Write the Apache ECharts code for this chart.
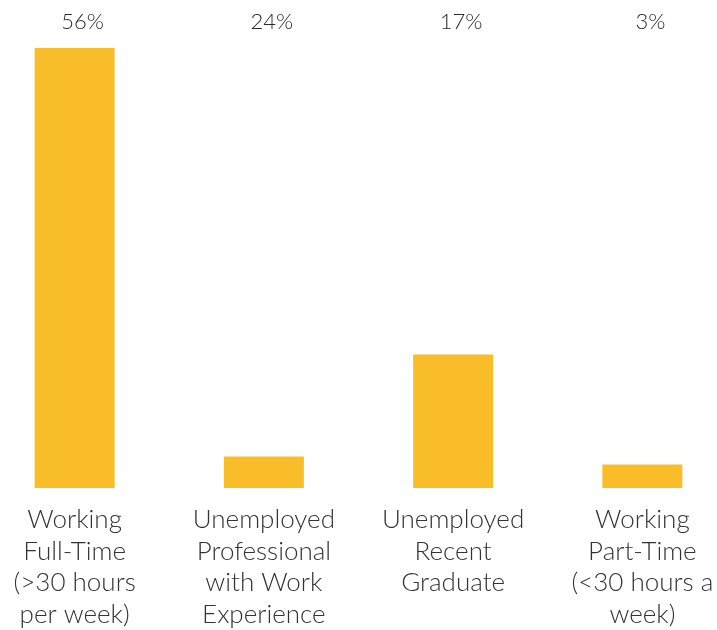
<!DOCTYPE html>
<html>
<head>
<meta charset="utf-8">
<script src="https://cdn.jsdelivr.net/npm/echarts@6/dist/echarts.min.js"></script>
<style>
  html, body { margin: 0; padding: 0; background: #fff; overflow: hidden; }
  /* plot is a bit wider than the window, first/last bands run off the edges */
  #chart { width: 757px; height: 630px; margin-left: -20px; }
</style>
</head>
<body>
<div id="chart"></div>
<script>
const categories = [
  "Working\nFull-Time\n(>30 hours\nper week)",
  "Unemployed\nProfessional\nwith Work\nExperience",
  "Unemployed\nRecent\nGraduate",
  "Working\nPart-Time\n(<30 hours a\nweek)"
];
// bar heights as drawn in the picture
const barValues = [56, 4, 17, 3];
// percentage labels printed above the plot
const topLabels = ["56%", "24%", "17%", "3%"];

const chart = echarts.init(document.getElementById("chart"));

const option = {
  animation: false,
  grid: { left: 0, right: 0, top: 48, bottom: 142 },
  xAxis: [
    {
      type: "category",
      data: categories,
      position: "bottom",
      axisLine: { show: false },
      axisTick: { show: false },
      axisLabel: {
        interval: 0,
        margin: 16,
        color: "#333",
        fontFamily: "Lato",
        fontWeight: 300,
        fontSize: 26,
        lineHeight: 31.5
      }
    },
    {
      type: "category",
      data: topLabels,
      position: "top",
      axisLine: { show: false },
      axisTick: { show: false },
      axisLabel: {
        interval: 0,
        margin: 15,
        color: "#2a2a2a",
        fontFamily: "Lato",
        fontWeight: 300,
        fontSize: 22,
        padding: [0, 0, 0, 16]
      }
    }
  ],
  yAxis: {
    type: "value",
    min: 0,
    max: 56,
    show: false,
    splitLine: { show: false }
  },
  series: [
    {
      type: "bar",
      data: barValues,
      barWidth: 80,
      itemStyle: { color: "#F8BD28" }
    }
  ]
};

chart.setOption(option);
</script>
</body>
</html>
